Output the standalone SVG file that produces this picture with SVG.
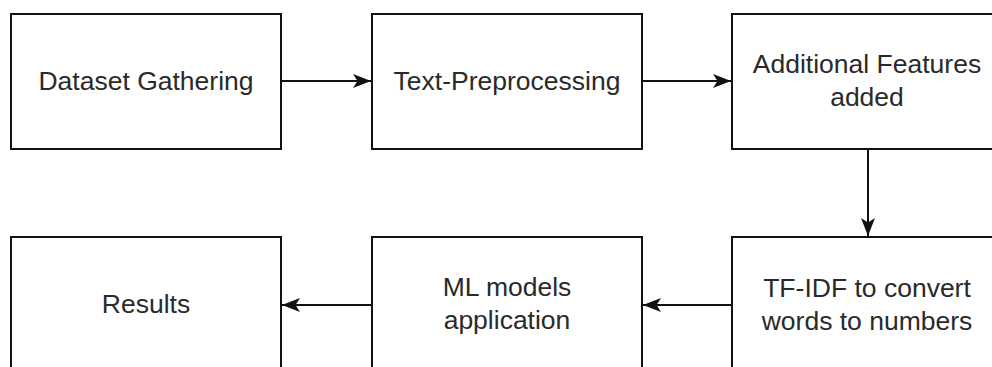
<svg xmlns="http://www.w3.org/2000/svg" width="992" height="367" viewBox="0 0 992 367">
<style>
.box{fill:#ffffff;stroke:#111111;stroke-width:2}
.lbl{font-family:"Liberation Sans",Arial,sans-serif;font-size:26.5px;fill:#2a2a2a;text-anchor:middle}
.edge{stroke:#111111;stroke-width:2;fill:none;marker-end:url(#arr)}
</style>
<defs>
<marker id="arr" markerUnits="userSpaceOnUse" markerWidth="20" markerHeight="16" refX="18" refY="7" orient="auto">
<path d="M0,0 L18,7 L0,14 L4.5,7 Z" fill="#111111"/>
</marker>
</defs>
<rect width="992" height="367" fill="#ffffff"/>
<g id="n1"><rect class="box" x="11" y="14" width="270" height="135"/><text class="lbl" x="146" y="90">Dataset Gathering</text></g>
<g id="n2"><rect class="box" x="372" y="14" width="270" height="135"/><text class="lbl" x="507" y="90">Text-Preprocessing</text></g>
<g id="n3"><rect class="box" x="732" y="14" width="270" height="135"/><text class="lbl" x="867" y="73">Additional Features</text><text class="lbl" x="867" y="106">added</text></g>
<g id="n4"><rect class="box" x="732" y="237" width="270" height="135"/><text class="lbl" x="867" y="297">TF-IDF to convert</text><text class="lbl" x="867" y="330">words to numbers</text></g>
<g id="n5"><rect class="box" x="372" y="237" width="270" height="135"/><text class="lbl" x="507" y="296">ML models</text><text class="lbl" x="507" y="329">application</text></g>
<g id="n6"><rect class="box" x="11" y="237" width="270" height="135"/><text class="lbl" x="146" y="313">Results</text></g>
<g id="edges">
<path class="edge" d="M281,81 L371,81"/>
<path class="edge" d="M642,81 L731,81"/>
<path class="edge" d="M868,149 L868,236"/>
<path class="edge" d="M732,305 L643,305"/>
<path class="edge" d="M372,305 L282,305"/>
</g>
</svg>
